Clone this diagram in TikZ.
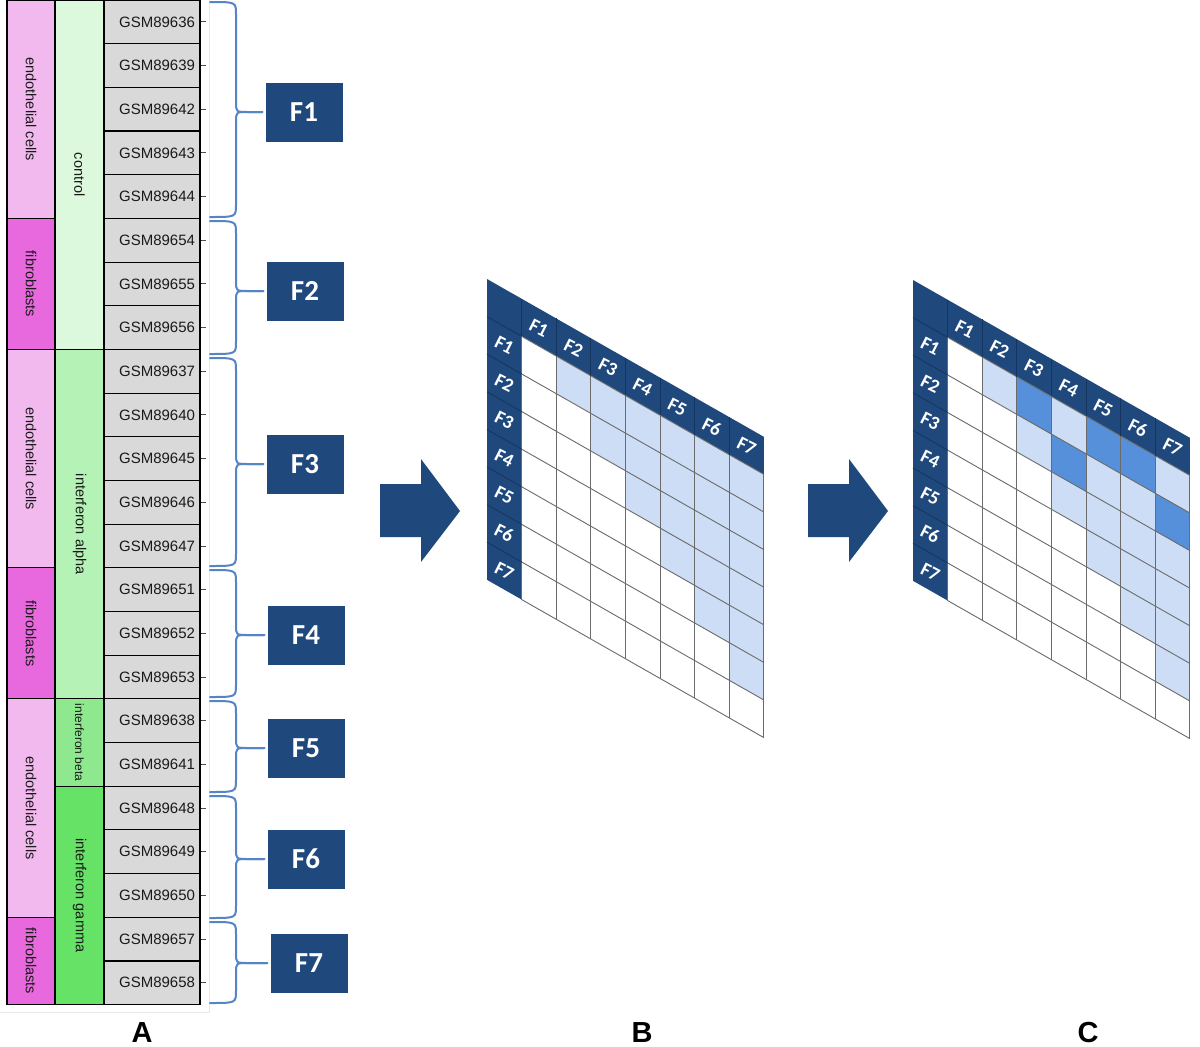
\documentclass[tikz,border=0pt]{standalone}
\usepackage{fontspec}
\usepackage{graphicx}
\setmainfont{Liberation Sans}
\newfontfamily\calib{Carlito}
\usetikzlibrary{calc}
\definecolor{hdr}{HTML}{1F497D}
\definecolor{hline}{HTML}{15355E}
\definecolor{lb}{HTML}{CCDDF5}
\definecolor{dk}{HTML}{5690DA}
\definecolor{bracec}{HTML}{5585C4}
\definecolor{endo}{HTML}{F2B9EE}
\definecolor{fibro}{HTML}{E868DD}
\definecolor{ctrl}{HTML}{DDF9DD}
\definecolor{alpha}{HTML}{B5F2B5}
\definecolor{beta}{HTML}{8EE98E}
\definecolor{gamma}{HTML}{66E266}
\definecolor{gsmgray}{HTML}{D9D9D9}
\definecolor{txt}{HTML}{1A1A1A}
\definecolor{gridc}{HTML}{6B6B6B}

\newcommand{\matgrid}[1]{%
  \foreach \c in {0,...,7}{\foreach \r in {0,...,7}{%
    \ifnum\c=0 \def\cc{hdr}\else\ifnum\r=0 \def\cc{hdr}\else\ifnum\c>\r \def\cc{lb}\else\def\cc{white}\fi\fi\fi
    \fill[\cc] (\c*34.6,\r*37.6) rectangle ++(34.6,37.6);
  }}%
  #1%
  \foreach \c in {1,...,8}{\draw[gl] (\c*34.6,37.6) -- (\c*34.6,8*37.6);}%
  \foreach \r in {1,...,8}{\draw[gl] (34.6,\r*37.6) -- (8*34.6,\r*37.6);}%
  \foreach \c in {1,...,7}{\draw[hl] (\c*34.6,0) -- (\c*34.6,37.6);}%
  \foreach \r in {1,...,7}{\draw[hl] (0,\r*37.6) -- (34.6,\r*37.6);}%
}
% labels placed outside the slanted scope: #1 = x origin, #2 = y origin, #3 = name prefix
\newcommand{\matlabels}[3]{%
  \foreach \k in {1,...,7}{%
    \node[mlab] (#3col\k) at ({#1+(\k+0.5)*34.6},{#2+19.5+0.57*(\k+0.5)*34.6}) {F\k};
    \node[mlab] (#3row\k) at ({#1+17.3},{#2+(\k+0.5)*37.6+0.57*17.3}) {F\k};
  }%
}

\newcommand{\fbrace}[4]{%
  \draw[brc] (210,#1) .. controls (236,#1) .. (236,{#1+12}) -- (236,{#3-10}) .. controls (236,#3) .. (248,#3) -- ([xshift=-3pt]#4.west);
  \draw[brc] ([xshift=-3pt]#4.west) -- (248,#3) .. controls (236,#3) .. (236,{#3+10}) -- (236,{#2-12}) .. controls (236,#2) .. (210,#2);
}

\begin{document}
\begin{tikzpicture}[x=1pt,y=-1pt,
  gsm/.style={draw=black, line width=1.1pt, fill=gsmgray, minimum height=43.68pt,
    text width=86pt, align=right, inner xsep=5pt, inner ysep=0pt,
    font=\fontsize{15}{16}\selectfont, text=txt},
  blk/.style={draw=black, line width=1.1pt, rotate=-90, inner sep=0pt,
    font=\fontsize{14.5}{16}\selectfont, text=txt},
  fbox/.style={fill=hdr, text=white, minimum width=77pt, minimum height=59pt, inner sep=0pt,
    font=\calib\bfseries\fontsize{29}{30}\selectfont},
  brc/.style={draw=bracec, line width=2pt, line cap=round},
  tickl/.style={draw=gray!60!black, line width=1pt},
  gl/.style={draw=gridc, line width=0.9pt},
  hl/.style={draw=hline, line width=0.9pt},
  mlab/.style={text=white, font=\calib\bfseries\fontsize{19}{20}\selectfont, rotate=-27, inner sep=0pt},
  panel/.style={font=\bfseries\fontsize{29}{31}\selectfont, anchor=base, inner sep=0pt},
  barrow/.style={fill=hdr}
]
\useasboundingbox (0,0) rectangle (1200,1047);
\fill[white] (0,0) rectangle (1200,1047);

% faint frame of panel A
\draw[gray!18, line width=1pt] (209,0) -- (209,1012) -- (0,1012);

% column 1: cell types
\node[blk, fill=endo,  minimum width=218.4pt, minimum height=48pt] (ct1) at (31,109.2) {endothelial cells};
\node[blk, fill=fibro, minimum width=131.04pt, minimum height=48pt] (ct2) at (31,283.92) {fibroblasts};
\node[blk, fill=endo,  minimum width=218.4pt, minimum height=48pt] (ct3) at (31,458.64) {endothelial cells};
\node[blk, fill=fibro, minimum width=131.04pt, minimum height=48pt] (ct4) at (31,633.36) {fibroblasts};
\node[blk, fill=endo,  minimum width=218.4pt, minimum height=48pt] (ct5) at (31,808.08) {endothelial cells};
\node[blk, fill=fibro, minimum width=87.36pt, minimum height=48pt] (ct6) at (31,960.96) {fibroblasts};

% column 2: treatments
\node[blk, fill=ctrl,  minimum width=349.44pt, minimum height=49pt] (tr1) at (79.5,174.72) {control};
\node[blk, fill=alpha, minimum width=349.44pt, minimum height=49pt] (tr2) at (79.5,524.16) {interferon alpha};
\node[blk, fill=beta,  minimum width=87.36pt, minimum height=49pt, font=\fontsize{12}{13}\selectfont] (tr3) at (79.5,742.56) {interferon beta};
\node[blk, fill=gamma, minimum width=218.4pt, minimum height=49pt] (tr4) at (79.5,895.44) {interferon gamma};

% column 3: samples
\foreach \g [count=\k] in {GSM89636,GSM89639,GSM89642,GSM89643,GSM89644,GSM89654,GSM89655,GSM89656,GSM89637,GSM89640,GSM89645,GSM89646,GSM89647,GSM89651,GSM89652,GSM89653,GSM89638,GSM89641,GSM89648,GSM89649,GSM89650,GSM89657,GSM89658}{
  \node[gsm] (g\k) at (152,{(\k-0.5)*43.68}) {\g};
  \draw[tickl] (g\k.east) -- ++(5,0);
}

% F boxes
\node[fbox] (F1) at (304,112) {F1};
\node[fbox] (F2) at (305,291) {F2};
\node[fbox] (F3) at (305,464) {F3};
\node[fbox] (F4) at (306,635) {F4};
\node[fbox] (F5) at (306,748) {F5};
\node[fbox] (F6) at (306,859) {F6};
\node[fbox] (F7) at (309,963) {F7};

% braces
\fbrace{2}{217}{112}{F1}
\fbrace{221}{354}{291}{F2}
\fbrace{358}{566}{464}{F3}
\fbrace{570}{697}{635}{F4}
\fbrace{701}{792}{748}{F5}
\fbrace{796}{918}{859}{F6}
\fbrace{922}{1003}{963}{F7}

% block arrows
\fill[barrow] (380,484) -- (421,484) -- (421,459) -- (460,511) -- (421,562) -- (421,537) -- (380,537) -- cycle;
\fill[barrow] (808,484) -- (849,484) -- (849,459) -- (888,511) -- (849,562) -- (849,537) -- (808,537) -- cycle;

% matrix B
\begin{scope}[shift={(487,279)}, yslant=-0.57]
  \matgrid{}
\end{scope}
\matlabels{487}{279}{B}

% matrix C
\begin{scope}[shift={(913,280)}, yslant=-0.57]
  \matgrid{%
    \fill[dk] (3*34.6,1*37.6) rectangle ++(34.6,37.6);
    \fill[dk] (4*34.6,2*37.6) rectangle ++(34.6,37.6);
    \fill[dk] (5*34.6,1*37.6) rectangle ++(34.6,37.6);
    \fill[dk] (6*34.6,1*37.6) rectangle ++(34.6,37.6);
    \fill[dk] (7*34.6,2*37.6) rectangle ++(34.6,37.6);
  }
\end{scope}
\matlabels{913}{280}{C}

% panel labels
\node[panel] (labA) at (142,1042) {A};
\node[panel] (labB) at (642,1042) {B};
\node[panel] (labC) at (1088,1042) {C};
\end{tikzpicture}
\end{document}
